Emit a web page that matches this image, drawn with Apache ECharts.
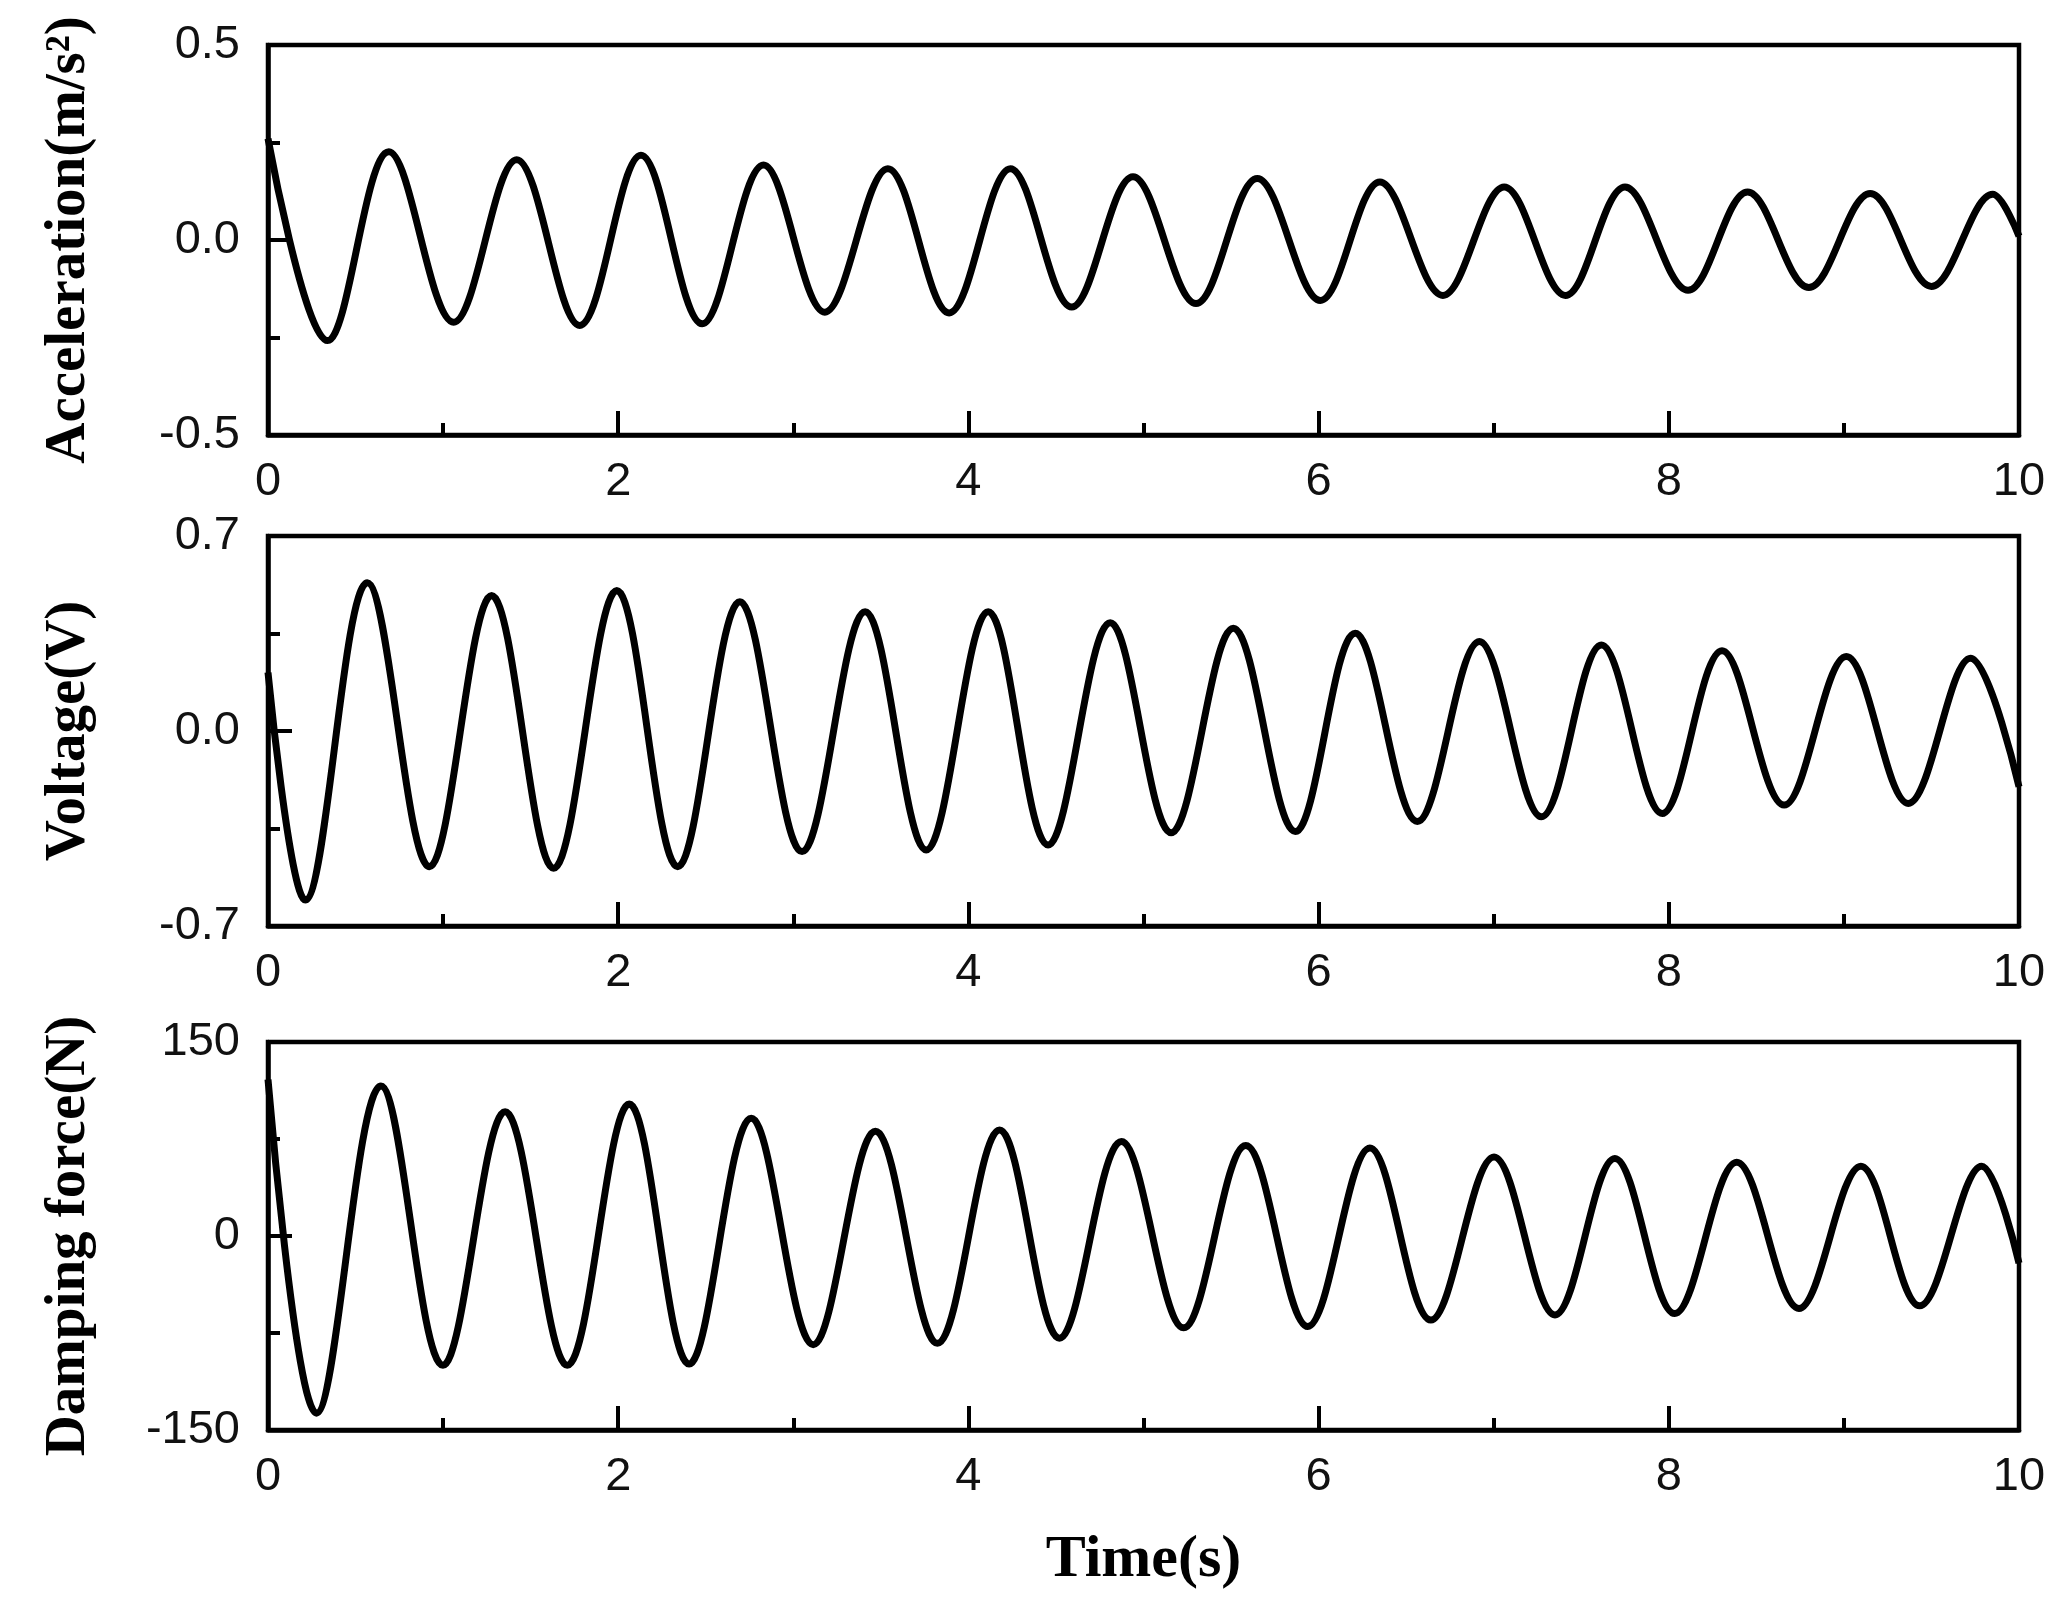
<!DOCTYPE html>
<html>
<head>
<meta charset="utf-8">
<script src="https://cdn.jsdelivr.net/npm/echarts@6/dist/echarts.min.js"></script>
<style>
  html, body { margin: 0; padding: 0; background: #fff; }
  #chart { width: 2062px; height: 1608px; }
</style>
</head>
<body>
<div id="chart"></div>
<script>
// peaks / troughs (time in s)
const accTime = [0, 0.34, 0.69, 1.06, 1.42, 1.78, 2.13, 2.48, 2.83, 3.18, 3.54, 3.89, 4.24, 4.59, 4.94,
  5.30, 5.65, 6.01, 6.35, 6.71, 7.06, 7.41, 7.75, 8.11, 8.45, 8.80, 9.15, 9.50, 9.85, 10]
const accValue = [0.26, -0.258, 0.226, -0.211, 0.206, -0.219, 0.217, -0.215, 0.192, -0.185, 0.183, -0.187, 0.183, -0.172, 0.162,
  -0.163, 0.158, -0.155, 0.149, -0.142, 0.136, -0.142, 0.136, -0.129, 0.123, -0.122, 0.119, -0.119, 0.117, 0.01]

const voltTime = [0, 0.213, 0.567, 0.922, 1.277, 1.631, 1.992, 2.34, 2.695, 3.05, 3.41, 3.759, 4.113, 4.455, 4.81,
  5.158, 5.513, 5.867, 6.209, 6.564, 6.918, 7.273, 7.615, 7.963, 8.304, 8.659, 9.014, 9.368, 9.723, 10]
const voltValue = [0.21, -0.607, 0.532, -0.487, 0.486, -0.493, 0.504, -0.487, 0.464, -0.433, 0.428, -0.427, 0.428, -0.409, 0.389,
  -0.365, 0.369, -0.361, 0.351, -0.325, 0.321, -0.308, 0.309, -0.296, 0.288, -0.266, 0.267, -0.26, 0.261, -0.2]

const dampTime = [0, 0.277, 0.645, 0.999, 1.354, 1.709, 2.063, 2.405, 2.76, 3.114, 3.469, 3.823, 4.178, 4.52, 4.874,
  5.229, 5.584, 5.938, 6.293, 6.641, 7.002, 7.35, 7.692, 8.034, 8.388, 8.743, 9.097, 9.433, 9.787, 10]
const dampValue = [121, -137, 116, -100, 96, -100, 102, -99, 91, -84, 81, -83, 82, -79, 73,
  -71, 70, -70, 68, -65, 61, -61, 60, -60, 57, -56, 54, -54, 54, -21]

const timeTicks = [0, 10, 2]          // min, max, interval
const accTicks = [-0.5, 0.5, 0.5]
const voltTicks = [-0.7, 0.7, 0.7]
const dampTicks = [-150, 150, 150]

const yNames = ['Acceleration(m/s²)', 'Voltage(V)', 'Damping force(N)']
const xName = 'Time(s)'

const zip = (xs, ys) => xs.map((x, i) => [x, ys[i]])

const chart = echarts.init(document.getElementById('chart'))

const grids = [
  { top: 45, height: 390 },
  { top: 536, height: 390 },
  { top: 1042, height: 388 }
].map(g => ({
  left: 268, width: 1751, top: g.top, height: g.height,
  show: true, borderColor: '#000', borderWidth: 4.5, backgroundColor: 'transparent'
}))

const black = { color: '#000', width: 4 }
const tickLabel = { fontFamily: 'Liberation Sans', fontSize: 47, color: '#111' }
const titleFont = { fontFamily: 'Liberation Serif', fontWeight: 'bold', fontSize: 57, color: '#000' }

const xAxes = [0, 1, 2].map(i => ({
  type: 'value', gridIndex: i,
  min: timeTicks[0], max: timeTicks[1], interval: timeTicks[2],
  axisLine: { show: true, onZero: false, lineStyle: { color: '#000', width: 4.5 } },
  axisTick: { show: true, inside: true, length: 24, lineStyle: black },
  minorTick: { show: true, splitNumber: 2, length: 12, lineStyle: black },
  splitLine: { show: false },
  axisLabel: Object.assign({ margin: 24 }, tickLabel),
  name: i === 2 ? xName : '',
  nameLocation: 'middle', nameGap: 100,
  nameTextStyle: Object.assign({}, titleFont, { fontSize: 60 })
}))

const yTicks = [accTicks, voltTicks, dampTicks]
const yAxes = [0, 1, 2].map(i => ({
  type: 'value', gridIndex: i,
  min: yTicks[i][0], max: yTicks[i][1], interval: yTicks[i][2],
  axisLine: { show: true, onZero: false, lineStyle: { color: '#000', width: 4.5 } },
  axisTick: { show: true, inside: true, length: 24, lineStyle: black },
  minorTick: { show: true, splitNumber: 2, length: 12, lineStyle: black },
  splitLine: { show: false },
  axisLabel: Object.assign({
    margin: 28,
    formatter: v => i === 2 ? String(Math.round(v)) : (Math.abs(v) < 1e-9 ? '0.0' : v.toFixed(1))
  }, tickLabel),
  name: yNames[i],
  nameLocation: 'middle', nameGap: 170,
  nameTextStyle: titleFont
}))

const lineSeries = (i, data) => ({
  type: 'line', xAxisIndex: i, yAxisIndex: i,
  data: data, smooth: 0.36, showSymbol: false, animation: false,
  lineStyle: { color: '#000', width: 7 }
})

chart.setOption({
  backgroundColor: '#fff',
  animation: false,
  grid: grids,
  xAxis: xAxes,
  yAxis: yAxes,
  series: [
    lineSeries(0, zip(accTime, accValue)),
    lineSeries(1, zip(voltTime, voltValue)),
    lineSeries(2, zip(dampTime, dampValue))
  ]
})
</script>
</body>
</html>
